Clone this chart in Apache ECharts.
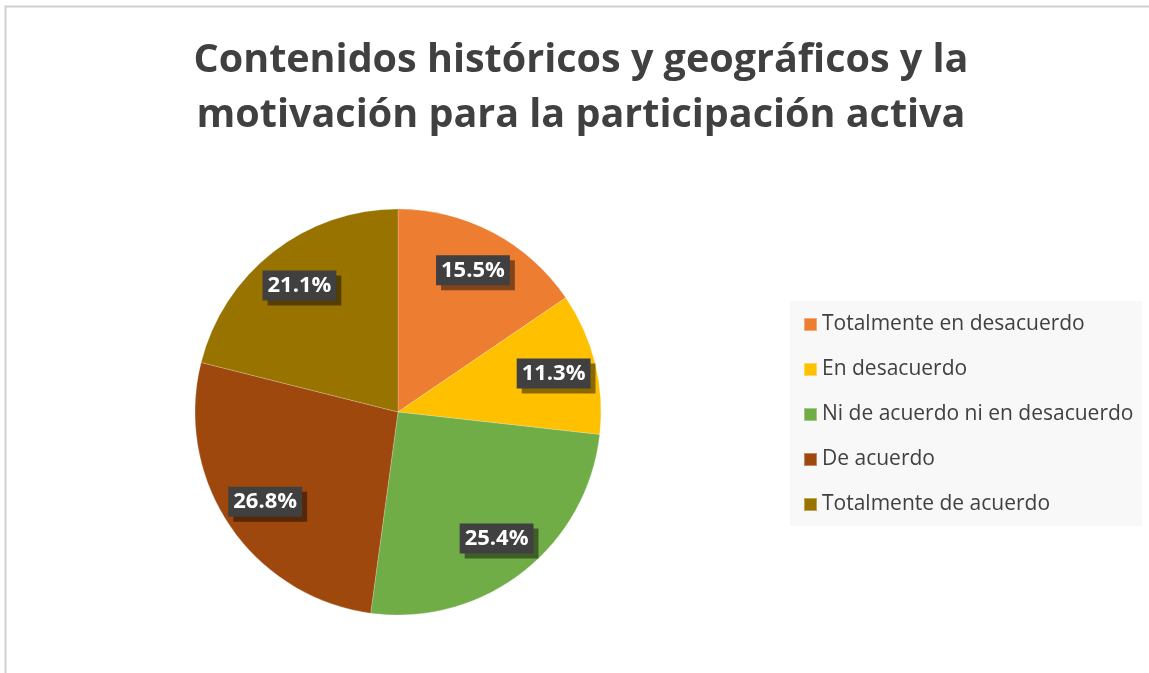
<!DOCTYPE html>
<html>
<head>
<meta charset="utf-8">
<script src="https://cdn.jsdelivr.net/npm/echarts@6/dist/echarts.min.js"></script>
<style>
  html, body { margin: 0; padding: 0; background: #ffffff; }
  #chart { width: 1149px; height: 673px; }
</style>
</head>
<body>
<div id="chart"></div>
<script>
const titleText = 'Contenidos históricos y geográficos y la\nmotivación para la participación activa';
const categories = [
  'Totalmente en desacuerdo',
  'En desacuerdo',
  'Ni de acuerdo ni en desacuerdo',
  'De acuerdo',
  'Totalmente de acuerdo'
];
const values = [15.5, 11.3, 25.4, 26.8, 21.1];
const colors = ['#ED7D31', '#FFC000', '#70AD47', '#9E480E', '#997300'];

const FONT = '"Open Sans", "Noto Sans", sans-serif';
const pieData = categories.map((name, i) => ({ name: name, value: values[i] }));
const center = [398, 412];
const R = 203;

const chart = echarts.init(document.getElementById('chart'), null, { renderer: 'canvas' });
chart.setOption({
  animation: false,
  backgroundColor: '#ffffff',
  color: colors,
  title: {
    text: titleText,
    left: 581,
    top: 33,
    textAlign: 'center',
    padding: 0,
    textStyle: {
      fontFamily: FONT,
      fontSize: 39.5,
      fontWeight: 'bold',
      color: '#404040',
      lineHeight: 55
    }
  },
  legend: {
    orient: 'vertical',
    left: 790,
    top: 301,
    padding: [13, 9, 11, 13],
    backgroundColor: '#f8f8f8',
    icon: 'rect',
    itemWidth: 13,
    itemHeight: 13,
    itemGap: 24,
    data: categories,
    textStyle: {
      fontFamily: FONT,
      fontSize: 21,
      lineHeight: 21,
      color: '#404040'
    }
  },
  graphic: [{
    type: 'polyline',
    silent: true,
    shape: { points: [[5.5, 673], [5.5, 6.5], [1149, 6.5]] },
    style: { stroke: '#d0d0d0', lineWidth: 2, fill: null }
  }],
  series: [
    {
      type: 'pie',
      center: center,
      radius: [0, R],
      startAngle: 90,
      clockwise: true,
      label: { show: false },
      labelLine: { show: false },
      emphasis: { disabled: true },
      itemStyle: { borderColor: 'rgba(255,255,255,0.35)', borderWidth: 0.6 },
      data: pieData
    },
    {
      type: 'pie',
      center: center,
      radius: [R * 0.55, R],
      startAngle: 90,
      clockwise: true,
      silent: true,
      legendHoverLink: false,
      itemStyle: { color: 'rgba(0,0,0,0)' },
      emphasis: { disabled: true },
      labelLine: { show: false },
      label: {
        show: true,
        position: 'inside',
        formatter: p => p.value.toFixed(1) + '%',
        fontFamily: FONT,
        fontSize: 22,
        lineHeight: 23,
        fontWeight: 'bold',
        color: '#ffffff',
        backgroundColor: '#404040',
        padding: [4, 5, 3, 5],
        shadowColor: 'rgba(0,0,0,0.45)',
        shadowOffsetX: 5,
        shadowOffsetY: 5,
        shadowBlur: 0
      },
      data: pieData.map(d => ({ name: d.name + ' ', value: d.value }))
    }
  ]
});
</script>
</body>
</html>
